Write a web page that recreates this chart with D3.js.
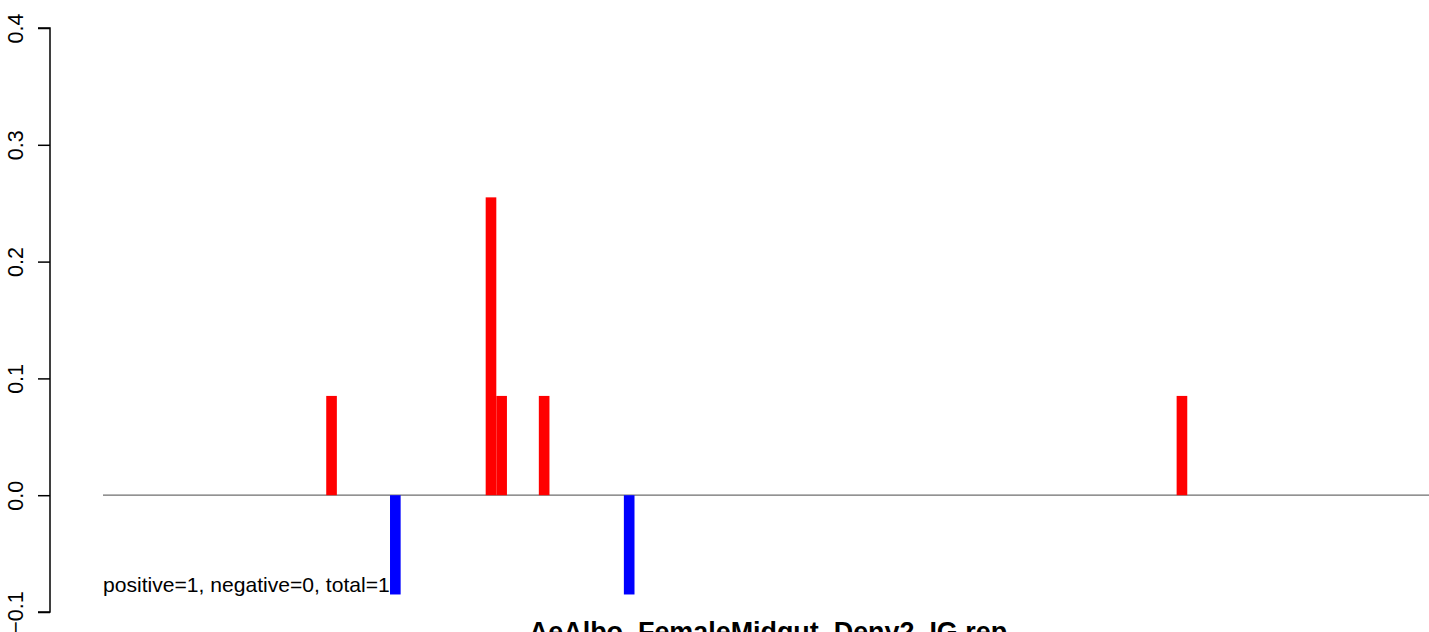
<!DOCTYPE html>
<html>
<head>
<meta charset="utf-8">
<script src="https://cdn.jsdelivr.net/npm/d3@7/dist/d3.min.js"></script>
<style>
  html, body { margin: 0; padding: 0; background: #fff; overflow: hidden; }
  svg { display: block; font-family: "Liberation Sans", Arial, Helvetica, sans-serif; }
</style>
</head>
<body>
<svg id="chart" width="1429" height="632"></svg>
<script>
// ---- data ----
const binIndex = [21, 27, 36, 37, 41, 49, 101];
const binValue = [0.085, -0.085, 0.255, 0.085, 0.085, -0.085, 0.085];
const yTicks = [-0.1, 0.0, 0.1, 0.2, 0.3, 0.4];
const yTickLabels = ["\u22120.1", "0.0", "0.1", "0.2", "0.3", "0.4"];
const binCount = 125;
const summaryText = "positive=1, negative=0, total=1";
const titleText = "AeAlbo_FemaleMidgut_Deny2_IG.rep";

// ---- layout ----
const svg = d3.select("#chart");
const x = d3.scaleLinear().domain([0, binCount]).range([103, 103 + binCount * 10.63]);
const y = d3.scaleLinear().domain([-0.1, 0.4]).range([612, 28]);

// baseline
svg.append("line")
  .attr("x1", x(0)).attr("x2", x(binCount))
  .attr("y1", y(0)).attr("y2", y(0))
  .attr("stroke", "#6e6e6e").attr("stroke-width", 1.3);

// bars
const data = binIndex.map((b, i) => ({ b, v: binValue[i] }));
svg.append("g").selectAll("rect").data(data).enter().append("rect")
  .attr("x", d => x(d.b))
  .attr("width", d => x(d.b + 1) - x(d.b))
  .attr("y", d => y(Math.max(0, d.v)))
  .attr("height", d => Math.abs(y(d.v) - y(0)))
  .attr("fill", d => d.v >= 0 ? "#ff0000" : "#0000ff");

// y axis
const axis = d3.axisLeft(y).tickValues(yTicks).tickSize(12).tickFormat((d, i) => yTickLabels[i]);
const ag = svg.append("g").attr("transform", "translate(50,0)").call(axis);
ag.select(".domain").attr("stroke", "#000").attr("stroke-width", 1.5)
  .attr("d", `M-12,${y(0.4)}H0V${y(-0.1)}H-12`);
ag.selectAll(".tick line").attr("stroke", "#000").attr("stroke-width", 1.5);
ag.selectAll(".tick text")
  .attr("x", null).attr("dy", null)
  .attr("transform", "translate(-27,0) rotate(-90)")
  .attr("text-anchor", "middle")
  .attr("font-size", 21.5)
  .attr("font-family", "Liberation Sans, Arial, sans-serif")
  .attr("fill", "#000");

// summary text
svg.append("text")
  .attr("x", 103).attr("y", 592)
  .attr("font-size", 21.1)
  .attr("fill", "#000")
  .text(summaryText);

// title
svg.append("text")
  .attr("x", 768).attr("y", 641)
  .attr("text-anchor", "middle")
  .attr("font-size", 26.9)
  .attr("font-weight", "bold")
  .attr("fill", "#000")
  .text(titleText);
</script>
</body>
</html>
